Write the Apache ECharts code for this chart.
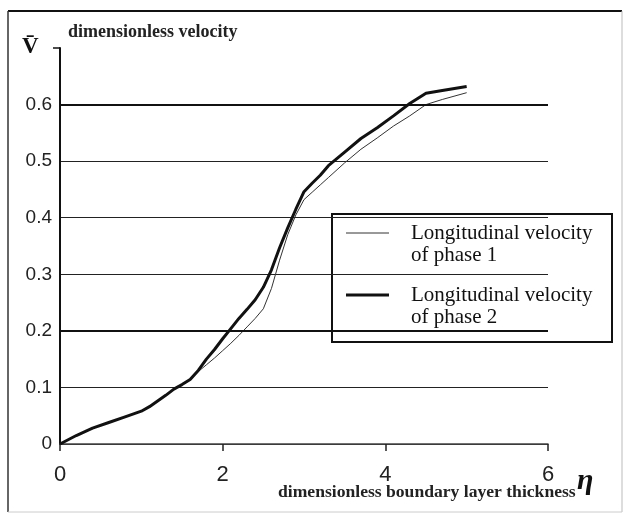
<!DOCTYPE html>
<html>
<head>
<meta charset="utf-8">
<script src="https://cdn.jsdelivr.net/npm/echarts@6/dist/echarts.min.js"></script>
<style>
  html, body { margin: 0; padding: 0; background: #fff; }
  #chart { width: 631px; height: 514px; }
</style>
</head>
<body>
<div id="chart"></div>
<script>
// η values where the curves were read
const eta = [0, 0.2, 0.4, 0.6, 0.8, 1.0, 1.1, 1.2, 1.3, 1.4, 1.5, 1.6, 1.7, 1.8, 1.9, 2.0,
  2.1, 2.2, 2.3, 2.4, 2.5, 2.6, 2.7, 2.8, 2.9, 3.0, 3.1, 3.2, 3.3, 3.5, 3.7, 3.9, 4.1, 4.3, 4.5, 4.7, 5.0]

// longitudinal velocity of phase 1 (thin line)
const phase1 = [0, 0.015, 0.028, 0.038, 0.048, 0.058, 0.066, 0.076, 0.086, 0.097, 0.105, 0.114, 0.128,
  0.14, 0.152, 0.165, 0.178, 0.192, 0.207, 0.222, 0.239, 0.275, 0.325, 0.37, 0.405, 0.432,
  0.445, 0.458, 0.471, 0.497, 0.521, 0.541, 0.562, 0.58, 0.6, 0.609, 0.621]

// longitudinal velocity of phase 2 (thick line)
const phase2 = [0, 0.015, 0.028, 0.038, 0.048, 0.058, 0.066, 0.076, 0.086, 0.097, 0.105, 0.114, 0.13,
  0.15, 0.167, 0.186, 0.204, 0.222, 0.238, 0.255, 0.277, 0.308, 0.347, 0.382, 0.415, 0.446,
  0.461, 0.475, 0.492, 0.516, 0.54, 0.559, 0.58, 0.602, 0.62, 0.625, 0.632]

const seriesNames = ['Longitudinal velocity\nof phase 1', 'Longitudinal velocity\nof phase 2']
const thickGrid = [0.2, 0.6]

function zip(xs, ys) {
  return xs.map((x, i) => [x, ys[i]])
}

let myChart = echarts.init(document.getElementById('chart'))
myChart.setOption({
  animation: false,
  backgroundColor: '#fff',
  grid: {
    left: 60,
    right: 83,
    top: 48,
    bottom: 70
  },
  xAxis: {
    type: 'value',
    min: 0,
    max: 6,
    interval: 2,
    axisLine: { lineStyle: { color: '#444', width: 1.5 } },
    axisTick: { show: true, length: 7, lineStyle: { color: '#222', width: 1.5 } },
    axisLabel: {
      margin: 20,
      fontFamily: 'Liberation Sans',
      fontSize: 22,
      color: '#222'
    },
    splitLine: { show: false }
  },
  yAxis: {
    type: 'value',
    min: 0,
    max: 0.7,
    interval: 0.1,
    name: 'dimensionless velocity',
    nameLocation: 'end',
    nameGap: 7,
    nameTextStyle: {
      fontFamily: 'Liberation Serif',
      fontWeight: 'bold',
      fontSize: 18,
      color: '#222',
      align: 'left',
      padding: [0, 0, 0, 8]
    },
    axisLine: { show: true, lineStyle: { color: '#111', width: 2 } },
    axisTick: { show: false },
    axisLabel: {
      margin: 8,
      fontFamily: 'Liberation Sans',
      fontSize: 19,
      color: '#222',
      formatter: v => (v > 0.65 ? '' : String(Math.round(v * 10) / 10))
    },
    splitLine: {
      show: true,
      showMaxLine: false,
      lineStyle: { color: '#222', width: 1 }
    }
  },
  series: [
    {
      name: seriesNames[0],
      type: 'line',
      symbol: 'none',
      data: zip(eta, phase1),
      lineStyle: { color: '#333', width: 1 },
      z: 3
    },
    {
      name: seriesNames[1],
      type: 'line',
      symbol: 'none',
      data: zip(eta, phase2),
      lineStyle: { color: '#111', width: 3 },
      z: 4,
      markLine: {
        silent: true,
        symbol: 'none',
        label: { show: false },
        lineStyle: { color: '#111', width: 2, type: 'solid' },
        data: thickGrid.map(v => ({ yAxis: v }))
      }
    }
  ],
  graphic: [
    // outer frame
    { type: 'line', shape: { x1: 8, y1: 11, x2: 622, y2: 11 }, style: { stroke: '#111', lineWidth: 2 } },
    { type: 'line', shape: { x1: 8, y1: 11, x2: 8, y2: 512 }, style: { stroke: '#333', lineWidth: 1.5 } },
    { type: 'line', shape: { x1: 622, y1: 11, x2: 622, y2: 512 }, style: { stroke: '#bbb', lineWidth: 1 } },
    { type: 'line', shape: { x1: 8, y1: 512, x2: 622, y2: 512 }, style: { stroke: '#ccc', lineWidth: 1 } },
    // small tick at the top of the y axis
    { type: 'line', shape: { x1: 53, y1: 48, x2: 60, y2: 48 }, style: { stroke: '#111', lineWidth: 1.5 } },
    // y symbol
    {
      type: 'text', left: 22, top: 36,
      style: { text: 'V̄', font: 'bold 23px "Liberation Serif"', fill: '#111' }
    },
    // x symbol
    {
      type: 'text', left: 577, top: 466,
      style: { text: 'η', font: 'italic bold 30px "Liberation Serif"', fill: '#111' }
    },
    // x description
    {
      type: 'text', left: 278, top: 483,
      style: { text: 'dimensionless boundary layer thickness', font: 'bold 17.6px "Liberation Serif"', fill: '#222' }
    },
    // legend box
    {
      type: 'group', z: 100,
      children: [
        { type: 'rect', shape: { x: 332, y: 214, width: 280, height: 128 }, style: { fill: '#fff', stroke: '#111', lineWidth: 2 } },
        { type: 'line', shape: { x1: 346, y1: 233, x2: 389, y2: 233 }, style: { stroke: '#333', lineWidth: 1 } },
        { type: 'line', shape: { x1: 346, y1: 295, x2: 389, y2: 295 }, style: { stroke: '#111', lineWidth: 3 } },
        {
          type: 'text', x: 411, y: 222,
          style: { text: seriesNames[0], font: '21px "Liberation Serif"', lineHeight: 22, fill: '#111' }
        },
        {
          type: 'text', x: 411, y: 284,
          style: { text: seriesNames[1], font: '21px "Liberation Serif"', lineHeight: 22, fill: '#111' }
        }
      ]
    }
  ]
})
</script>
</body>
</html>
